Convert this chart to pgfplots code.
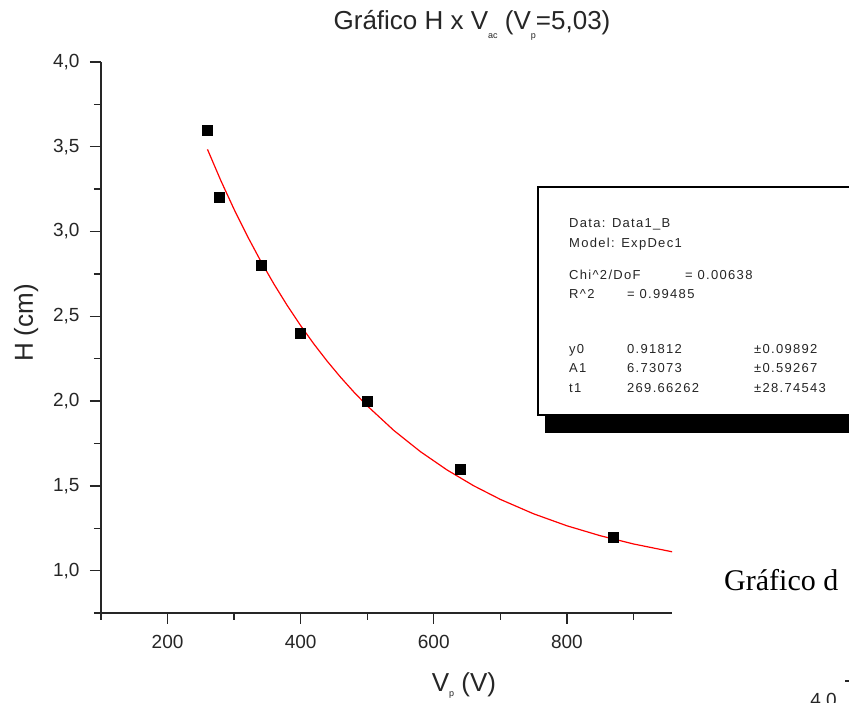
\documentclass[border=0pt]{standalone}
\usepackage{fontspec}
\setmainfont{Liberation Sans}
\newfontfamily\serifface{Liberation Serif}
\newfontfamily\boxface{Liberation Sans}[LetterSpace=10]
\usepackage{pgfplots}
\usepackage{pgfplotstable}
\usetikzlibrary{backgrounds}
\pgfplotsset{compat=1.18}

% small, low subscripts in the Origin style
\newcommand{\lowsub}[2][-9pt]{\raisebox{#1}{\fontsize{9}{9}\selectfont #2}}

% measured points
\pgfplotstableread{
x y
260 3.6
278 3.2
340 2.8
400 2.4
500 2.0
640 1.6
870 1.2
}\measured

% ExpDec1 fit: y0 + A1*exp(-x/t1), tabulated
\pgfplotstableread{
x y
260 3.4846
280 3.3011
300 3.1308
320 2.9727
340 2.8258
360 2.6894
380 2.5628
400 2.4452
420 2.3361
440 2.2347
460 2.1406
480 2.0532
500 1.9721
540 1.8268
580 1.7016
620 1.5936
660 1.5005
700 1.4202
750 1.3351
800 1.2645
850 1.2060
900 1.1573
960 1.1096
}\fitcurve

\begin{document}
\begin{tikzpicture}[x=1pt,y=1pt]
\begin{axis}[
  at={(0,0)}, anchor=south west, scale only axis,
  width=571pt, height=551pt,
  xmin=100, xmax=958, ymin=0.75, ymax=4.0,
  axis x line=bottom, axis y line=left,
  axis line style={-, line width=1.5pt, black!85},
  xtick={200,400,600,800}, minor xtick={100,300,500,700,900},
  ytick={1,1.5,2,2.5,3,3.5,4},
  minor ytick={0.75,1.25,1.75,2.25,2.75,3.25,3.75},
  tick align=outside,
  every tick/.style={black!85, line width=1.4pt},
  major tick length=11pt, minor tick length=7pt,
  /pgf/number format/assume math mode=true,
  ticklabel style={font=\fontsize{19}{19}\selectfont, black!85},
  xticklabel style={yshift=-8pt, /pgf/number format/.cd, fixed, 1000 sep={}},
  yticklabel style={xshift=-7pt, /pgf/number format/.cd, fixed, fixed zerofill, precision=1, use comma},
]
\addplot[red, line width=1.2pt, no marks] table[x=x, y=y] {\fitcurve};
\addplot[only marks, mark=square*, mark size=5pt, mark options={black, fill=black}] table[x=x, y=y] {\measured};
\coordinate (corner) at (rel axis cs:0,0);
\end{axis}

\begin{scope}[shift={(corner)}, xshift=-101pt, yshift=-90pt]
\pgfresetboundingbox
\path[use as bounding box] (0,0) rectangle (849,703);
\begin{scope}[on background layer]
\fill[white] (0,0) rectangle (849,703);
\end{scope}

% title and axis labels
\node[anchor=base, font=\fontsize{26}{26}\selectfont, black!85] at (472,673)
  {Gráfico H x V\lowsub{ac} (V\lowsub{p}=5,03)};
\node[anchor=base, font=\fontsize{26}{26}\selectfont, black!85] at (464,11)
  {V\lowsub[-5pt]{p} (V)};
\node[anchor=base, rotate=90, font=\fontsize{26}{26}\selectfont, black!85] at (33,380)
  {H (cm)};

% fit report box with drop shadow
\fill[black] (545,270) rectangle (870,287);
\draw[line width=1.5pt, fill=white] (538,288) rectangle (870,516);
\begin{scope}[every node/.style={anchor=base west, inner sep=0pt,
    font=\boxface\fontsize{13}{13}\selectfont, black!85}]
\node at (569,475) {Data: Data1\_B};
\node at (569,455) {Model: ExpDec1};
\node at (569,423) {Chi\textasciicircum 2/DoF};
\node at (685,423) {= 0.00638};
\node at (569,404) {R\textasciicircum 2};
\node at (627,404) {= 0.99485};
\node at (569,349) {y0};
\node at (627,349) {0.91812};
\node at (754,349) {±0.09892};
\node at (569,330) {A1};
\node at (627,330) {6.73073};
\node at (754,330) {±0.59267};
\node at (569,310) {t1};
\node at (627,310) {269.66262};
\node at (754,310) {±28.74543};
\end{scope}

% neighbouring caption and axis fragment
\node[anchor=base west, inner sep=0pt, font=\serifface\fontsize{30}{30}\selectfont] at (724,112) {Gráfico d};
\node[anchor=base east, inner sep=0pt, font=\fontsize{19}{19}\selectfont, black!85] at (837,-4) {4,0};
\draw[line width=1.4pt, black!85] (845,22) -- (849,22);
\end{scope}
\end{tikzpicture}
\end{document}
